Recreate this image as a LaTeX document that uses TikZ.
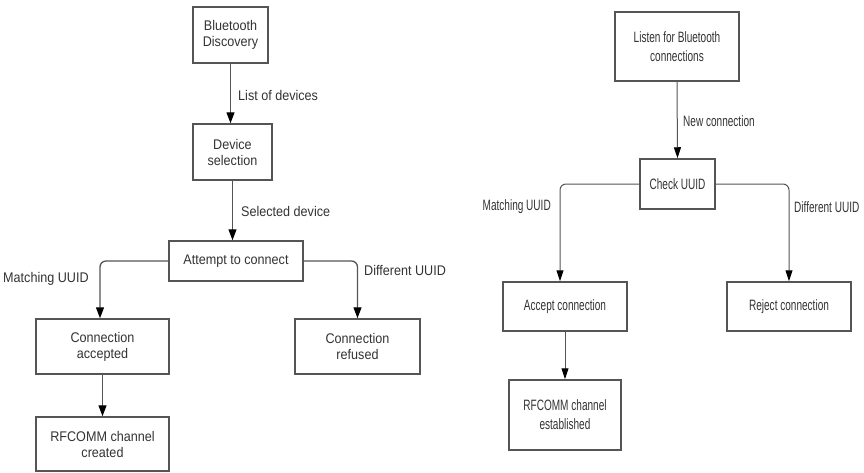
\documentclass[tikz,border=0pt]{standalone}
\usepackage{fontspec}
\usetikzlibrary{arrows.meta}
\newfontfamily\leftfont[FakeStretch=0.9]{Liberation Sans}
\newfontfamily\rightfont[FakeStretch=0.67]{Liberation Sans}
\definecolor{txt}{HTML}{333333}
\definecolor{ln}{HTML}{555555}
\begin{document}
\begin{tikzpicture}[x=1pt,y=-1pt,
  lbox/.style={draw=ln, line width=1.5pt, align=center, text=txt, inner sep=0pt,
    font=\leftfont\fontsize{14}{16}\selectfont},
  rbox/.style={draw=ln, line width=1.5pt, align=center, text=txt, inner sep=0pt,
    font=\rightfont\fontsize{15}{19}\selectfont},
  llab/.style={text=txt, inner sep=0pt, font=\leftfont\fontsize{14}{16}\selectfont},
  rlab/.style={text=txt, inner sep=0pt, font=\rightfont\fontsize{15}{19}\selectfont},
  larrow/.style={draw=ln, line width=1.3pt, rounded corners=6pt,
    -{Triangle[width=8pt,length=11pt,fill=black,color=black]}},
  rarrow/.style={draw=ln, line width=1pt, rounded corners=6pt,
    -{Triangle[width=7pt,length=11pt,fill=black,color=black]}}
]
\useasboundingbox[fill=white] (0,0) rectangle (864,472);

% Left diagram
\node[lbox, minimum width=75pt, minimum height=56pt] (bd) at (230.5,35) {Bluetooth\\Discovery};
\node[lbox, minimum width=79pt, minimum height=56pt] (ds) at (232.5,152) {Device\\selection};
\node[lbox, minimum width=134pt, minimum height=40pt] (atc) at (236,261) {Attempt to connect};
\node[lbox, minimum width=133pt, minimum height=55pt] (ca) at (102.5,346.5) {Connection\\accepted};
\node[lbox, minimum width=125pt, minimum height=55pt] (cr) at (357.5,346.5) {Connection\\refused};
\node[lbox, minimum width=133pt, minimum height=54pt] (rf1) at (102.5,444) {RFCOMM channel\\created};

\draw[larrow] (bd.south) -- (bd.south |- ds.north);
\draw[larrow] (ds.south) -- (ds.south |- atc.north);
\draw[larrow] (atc.west) -| ([xshift=-2.5pt]ca.north);
\draw[larrow] (atc.east) -| (cr.north);
\draw[larrow] (ca.south) -- (rf1.north);

\node[llab, anchor=west] (l1) at (238,95) {List of devices};
\node[llab, anchor=west] (l2) at (241,211) {Selected device};
\node[llab, anchor=west] (l3) at (3,279) {Matching UUID};
\node[llab, anchor=west] (l4) at (364,270) {Different UUID};

% Right diagram
\node[rbox, minimum width=124pt, minimum height=69pt] (lis) at (677,46.5) {Listen for Bluetooth\\connections};
\node[rbox, minimum width=75pt, minimum height=50pt] (chk) at (677.5,184) {Check UUID};
\node[rbox, minimum width=124pt, minimum height=49pt] (acc) at (565,306.5) {Accept connection};
\node[rbox, minimum width=124pt, minimum height=49pt] (rej) at (789,306.5) {Reject connection};
\node[rbox, minimum width=112pt, minimum height=70pt] (rf2) at (565,415) {RFCOMM channel\\established};

\draw[rarrow] (lis.south) -- (chk.north);
\draw[rarrow] (chk.west) -| ([xshift=-5pt]acc.north);
\draw[rarrow] (chk.east) -| (rej.north);
\draw[rarrow] (acc.south) -- (rf2.north);

\node[rlab, anchor=west] (r1) at (683,121) {New connection};
\node[rlab, anchor=east] (r2) at (551,207) {Matching UUID};
\node[rlab, anchor=west] (r3) at (794,207) {Different UUID};
\end{tikzpicture}
\end{document}
